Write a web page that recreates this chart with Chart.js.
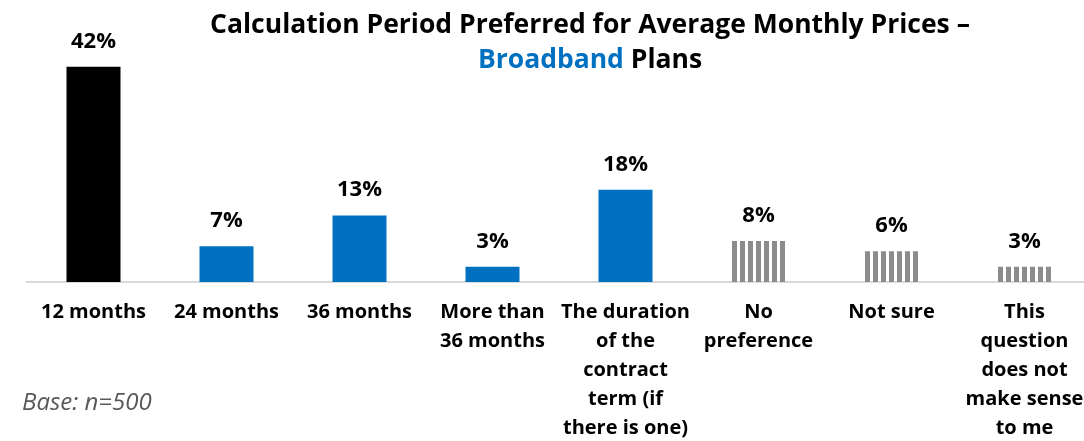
<!DOCTYPE html>
<html><head><meta charset="utf-8">
<script src="https://cdn.jsdelivr.net/npm/chart.js@4/dist/chart.umd.min.js"></script>
<style>html,body{margin:0;padding:0;background:#fff;overflow:hidden;}#wrap{width:1084px;height:441px;position:relative;overflow:hidden;}</style>
</head><body><div id="wrap"><canvas id="c" width="1091" height="441"></canvas></div>
<script>
const categories = [
  ["12 months"],
  ["24 months"],
  ["36 months"],
  ["More than", "36 months"],
  ["The duration", "of the", "contract", "term (if", "there is one)"],
  ["No", "preference"],
  ["Not sure"],
  ["This", "question", "does not", "make sense", "to me"]
];
const values = [42, 7, 13, 3, 18, 8, 6, 3];
const barKinds = ["black", "blue", "blue", "blue", "blue", "stripe", "stripe", "stripe"];
const titleLine1 = "Calculation Period Preferred for Average Monthly Prices \u2013";
const titleLine2 = [["Broadband", "#0070C0"], [" Plans", "#000000"]];
const baseNote = "Base: n=500";

const FONT = "'Open Sans', 'Liberation Sans', sans-serif";
const CAT_PCT = 0.406;

const tile = document.createElement('canvas');
tile.width = 8; tile.height = 8;
(function(){ const g = tile.getContext('2d'); g.fillStyle = '#8c8c8c'; g.fillRect(0, 0, 5, 8); })();
const ctx0 = document.getElementById('c').getContext('2d');

function barColor(context) {
  const i = context.dataIndex;
  const kind = barKinds[i];
  if (kind === 'black') return '#000000';
  if (kind === 'blue') return '#0070C0';
  const p = ctx0.createPattern(tile, 'repeat');
  const xs = context.chart.scales.x;
  if (xs && xs.width) {
    const w = xs.width / categories.length * CAT_PCT;
    const left = xs.getPixelForValue(i) - w / 2;
    p.setTransform(new DOMMatrix().translateSelf(Math.round(left), 0));
  }
  return p;
}

const overlay = {
  id: 'overlay',
  afterDatasetsDraw(chart) {
    const ctx = chart.ctx;
    const meta = chart.getDatasetMeta(0);
    ctx.save();
    ctx.fillStyle = '#000';
    ctx.font = "bold 22px " + FONT;
    ctx.textAlign = 'center';
    ctx.textBaseline = 'alphabetic';
    meta.data.forEach((bar, i) => {
      ctx.fillText(values[i] + '%', bar.x, bar.y - 19);
    });
    // title
    ctx.font = "bold 26.5px " + FONT;
    const cx = 590;
    ctx.fillText(titleLine1, cx, 33);
    let total = 0;
    titleLine2.forEach(p => total += ctx.measureText(p[0]).width);
    let x = cx - total / 2;
    ctx.textAlign = 'left';
    titleLine2.forEach(p => {
      ctx.fillStyle = p[1];
      ctx.fillText(p[0], x, 68);
      x += ctx.measureText(p[0]).width;
    });
    // base note
    ctx.font = "italic 24px " + FONT;
    ctx.fillStyle = '#595959';
    ctx.textAlign = 'left';
    ctx.fillText(baseNote, 22, 410);
    ctx.restore();
  }
};

new Chart(document.getElementById('c'), {
  type: 'bar',
  data: {
    labels: categories,
    datasets: [{
      data: values,
      backgroundColor: barColor,
      borderWidth: 0,
      barPercentage: 1,
      categoryPercentage: CAT_PCT
    }]
  },
  options: {
    responsive: false,
    animation: false,
    devicePixelRatio: 1,
    layout: {padding: {top: 36, left: 27, right: 0, bottom: 0}},
    plugins: {legend: {display: false}, tooltip: {enabled: false}, title: {display: false}},
    scales: {
      y: {display: false, min: 0, max: 48},
      x: {
        afterFit(scale) { scale.height = 159; scale.paddingLeft = 0; scale.paddingRight = 0; },
        grid: {display: false, drawTicks: false},
        border: {display: true, color: '#d9d9d9', width: 2},
        ticks: {
          color: '#000',
          font: {family: FONT, size: 20, weight: 'bold', lineHeight: 1.45},
          padding: 16,
          maxRotation: 0,
          autoSkip: false
        }
      }
    }
  },
  plugins: [overlay]
});
</script>
</body></html>
